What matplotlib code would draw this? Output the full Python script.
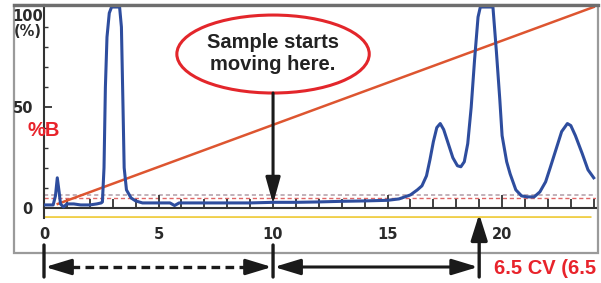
import matplotlib
matplotlib.use("Agg")
import matplotlib.pyplot as plt
from matplotlib.patches import Ellipse, Rectangle
from matplotlib.lines import Line2D
from matplotlib.transforms import blended_transform_factory, IdentityTransform

# UV trace (time in min, absorbance in %)
uv_time = [0.0, 0.4, 0.5, 0.58, 0.66, 0.72, 0.85, 1.0, 1.3, 1.6, 2.0, 2.3,
           2.5, 2.55, 2.62, 2.68, 2.75, 2.85, 2.95, 3.3, 3.38, 3.45, 3.5,
           3.6, 3.8, 4.0, 4.3, 5.0, 5.5, 5.7, 5.9, 7.0, 8.0, 9.0, 10.0,
           11.0, 12.0, 13.0, 14.0, 15.0, 15.5, 16.0, 16.3, 16.5, 16.7,
           16.85, 17.0, 17.15, 17.3, 17.45, 17.65, 17.85, 18.05, 18.2,
           18.35, 18.5, 18.65, 18.8, 18.95, 19.05, 19.6, 19.75, 19.9, 20.0,
           20.2, 20.35, 20.6, 20.85, 21.1, 21.4, 21.65, 21.9, 22.1, 22.35,
           22.6, 22.85, 23.0, 23.2, 23.5, 23.75, 24.0]
uv_value = [1.5, 1.5, 6, 15, 8, 2, 0.5, 2, 2, 1.5, 1.5, 2,
            2.5, 3, 20, 60, 85, 97, 100, 100, 90, 50, 20,
            9, 5, 3.5, 2.5, 2.5, 2.5, 1.2, 2.5, 2.5, 2.5, 2.5, 2.8,
            2.8, 3, 3.3, 3.5, 3.8, 4.5, 6.5, 9, 11, 16,
            24, 33, 40, 42, 39, 32, 25, 21, 20.5,
            23, 32, 50, 74, 95, 100, 100, 78, 54, 36,
            23, 17, 9, 6, 5.5, 5.5, 8, 13, 20, 29,
            38, 42, 41, 36, 27, 19, 15]

# gradient %B
grad_time = [0.6, 24.0]
grad_value = [2, 100]

x_major = [0, 5, 10, 15, 20]
x_labels = ["0", "5", "10", "15", "20"]

start_move = 10.0   # sample starts moving
cv_mark = 19.0      # 6.5 CV

W, H = 601, 283
fig = plt.figure(figsize=(W / 100, H / 100), dpi=100)
ax = fig.add_axes([44 / W, (H - 218) / H, (596 - 44) / W, 213 / H])
ax.set_xlim(0, 24.1)
ax.set_ylim(-5, 101)

tick_font = dict(family=["Liberation Sans Narrow", "DejaVu Sans"], size=10.5,
                 color="#2a2a2a", fontweight="bold")

# reference lines
ax.axhline(6.5, color="#b8a4ae", lw=1.2, ls=(0, (2.5, 1.8)), zorder=1)
ax.axhline(5, color="#e06666", lw=1.0, ls=(0, (3, 2)), zorder=1)
ax.plot([0, 23.9], [-4.5, -4.5], color="#f0cf4a", lw=2, solid_capstyle="butt", zorder=1)

ax.plot(grad_time, grad_value, color="#dd5530", lw=1.8, zorder=2)
ax.plot(uv_time, uv_value, color="#2e4d9e", lw=2.2, zorder=3)

# axes styling
for s in ["top", "right"]:
    ax.spines[s].set_visible(False)
ax.spines["bottom"].set_position(("data", 0))
ax.spines["bottom"].set_color("#333333")
ax.spines["bottom"].set_linewidth(1.5)
ax.spines["left"].set_color("#333333")
ax.spines["left"].set_linewidth(1.5)

ax.set_xticks(x_major)
ax.set_xticklabels(x_labels, **tick_font)
ax.set_xticks(range(1, 25), minor=True)
ax.tick_params(axis="x", which="major", direction="in", length=9.5, width=1.3,
               color="#333333", pad=14)
ax.tick_params(axis="x", which="minor", direction="in", length=6.5, width=1.3,
               color="#333333")

ax.set_yticks([0, 50])
ax.set_yticklabels(["0", "50"], **tick_font)
ax.set_yticks([10, 20, 30, 40, 60, 70, 80, 90], minor=True)
ax.tick_params(axis="y", which="major", direction="in", length=6, width=1.3,
               color="#333333", pad=8)
ax.tick_params(axis="y", which="minor", direction="in", length=3, width=1.0,
               color="#333333")
ax.text(-0.7, 99, "100\n(%)", ha="center", va="top", linespacing=1.0,
        clip_on=False, **tick_font)

ax.text(0, 38.5, "%B", ha="center", va="center", color="#e8232b",
        fontsize=14.5, fontweight="bold", family="Liberation Sans", clip_on=False, zorder=6)

# callout
ell = Ellipse((start_move, 76.6), 8.4, 38.8, facecolor="white", edgecolor="#e3262b",
              lw=2.2, zorder=5)
ax.add_patch(ell)
ax.text(start_move, 77, "Sample starts\nmoving here.", ha="center", va="center",
        fontsize=14.5, fontweight="bold", family="Liberation Sans", color="#222222",
        linespacing=1.2, zorder=6)
ax.annotate("", xy=(start_move, 2), xytext=(start_move, 57.2),
            arrowprops=dict(arrowstyle="-|>,head_length=0.79,head_width=0.22",
                            mutation_scale=20, lw=2.2, color="#1a1a1a",
                            shrinkA=0, shrinkB=0), zorder=6)

# bottom annotations: x in data, y in figure pixels
yc = ("data", "figure pixels")
arrow_y = H - 267
for xv in [0, start_move]:
    ax.annotate("", xy=(xv, H - 277), xytext=(xv, H - 245), xycoords=yc, textcoords=yc,
                annotation_clip=False,
                arrowprops=dict(arrowstyle="-", lw=2.4, color="#1a1a1a",
                                shrinkA=0, shrinkB=0))

head = dict(arrowstyle="-|>,head_length=0.79,head_width=0.24", mutation_scale=20,
            lw=2.2, color="#1a1a1a", shrinkA=0, shrinkB=0)

# dashed span
dash = Line2D([0.55, start_move - 0.55], [arrow_y, arrow_y], color="#1a1a1a", lw=2.4,
              dashes=(2.6, 1.6), clip_on=False,
              transform=blended_transform_factory(ax.transData, IdentityTransform()))
fig.add_artist(dash)
for tip, tail in [(0.05, 0.7), (start_move - 0.05, start_move - 0.7)]:
    ax.annotate("", xy=(tip, arrow_y), xytext=(tail, arrow_y), xycoords=yc, textcoords=yc,
                annotation_clip=False, arrowprops=head)

# solid span
ax.annotate("", xy=(cv_mark - 0.05, arrow_y), xytext=(start_move + 0.05, arrow_y),
            xycoords=yc, textcoords=yc, annotation_clip=False,
            arrowprops=dict(head, arrowstyle="<|-|>,head_length=0.79,head_width=0.24"))

# vertical arrow at 6.5 CV
ax.annotate("", xy=(cv_mark, H - 214), xytext=(cv_mark, H - 277), xycoords=yc, textcoords=yc,
            annotation_clip=False,
            arrowprops=dict(arrowstyle="-|>,head_length=0.79,head_width=0.25",
                            mutation_scale=20, lw=2.4, color="#1a1a1a",
                            shrinkA=0, shrinkB=0))

fig.text(494 / W, (H - 268) / H, "6.5 CV (6.5", ha="left", va="center",
         color="#e8232b", fontsize=14.5, fontweight="bold", family="Liberation Sans")

# outer frame
fig.add_artist(Rectangle((14 / W, (H - 253) / H), (598 - 14) / W, 248 / H,
                         transform=fig.transFigure, fill=False, edgecolor="#9a9a9a",
                         lw=1.6, zorder=0))
fig.add_artist(Line2D([14 / W, 598 / W], [(H - 5) / H, (H - 5) / H],
                      transform=fig.transFigure, color="#6e6e6e", lw=2.4))

fig.savefig("out.png", dpi=100)
